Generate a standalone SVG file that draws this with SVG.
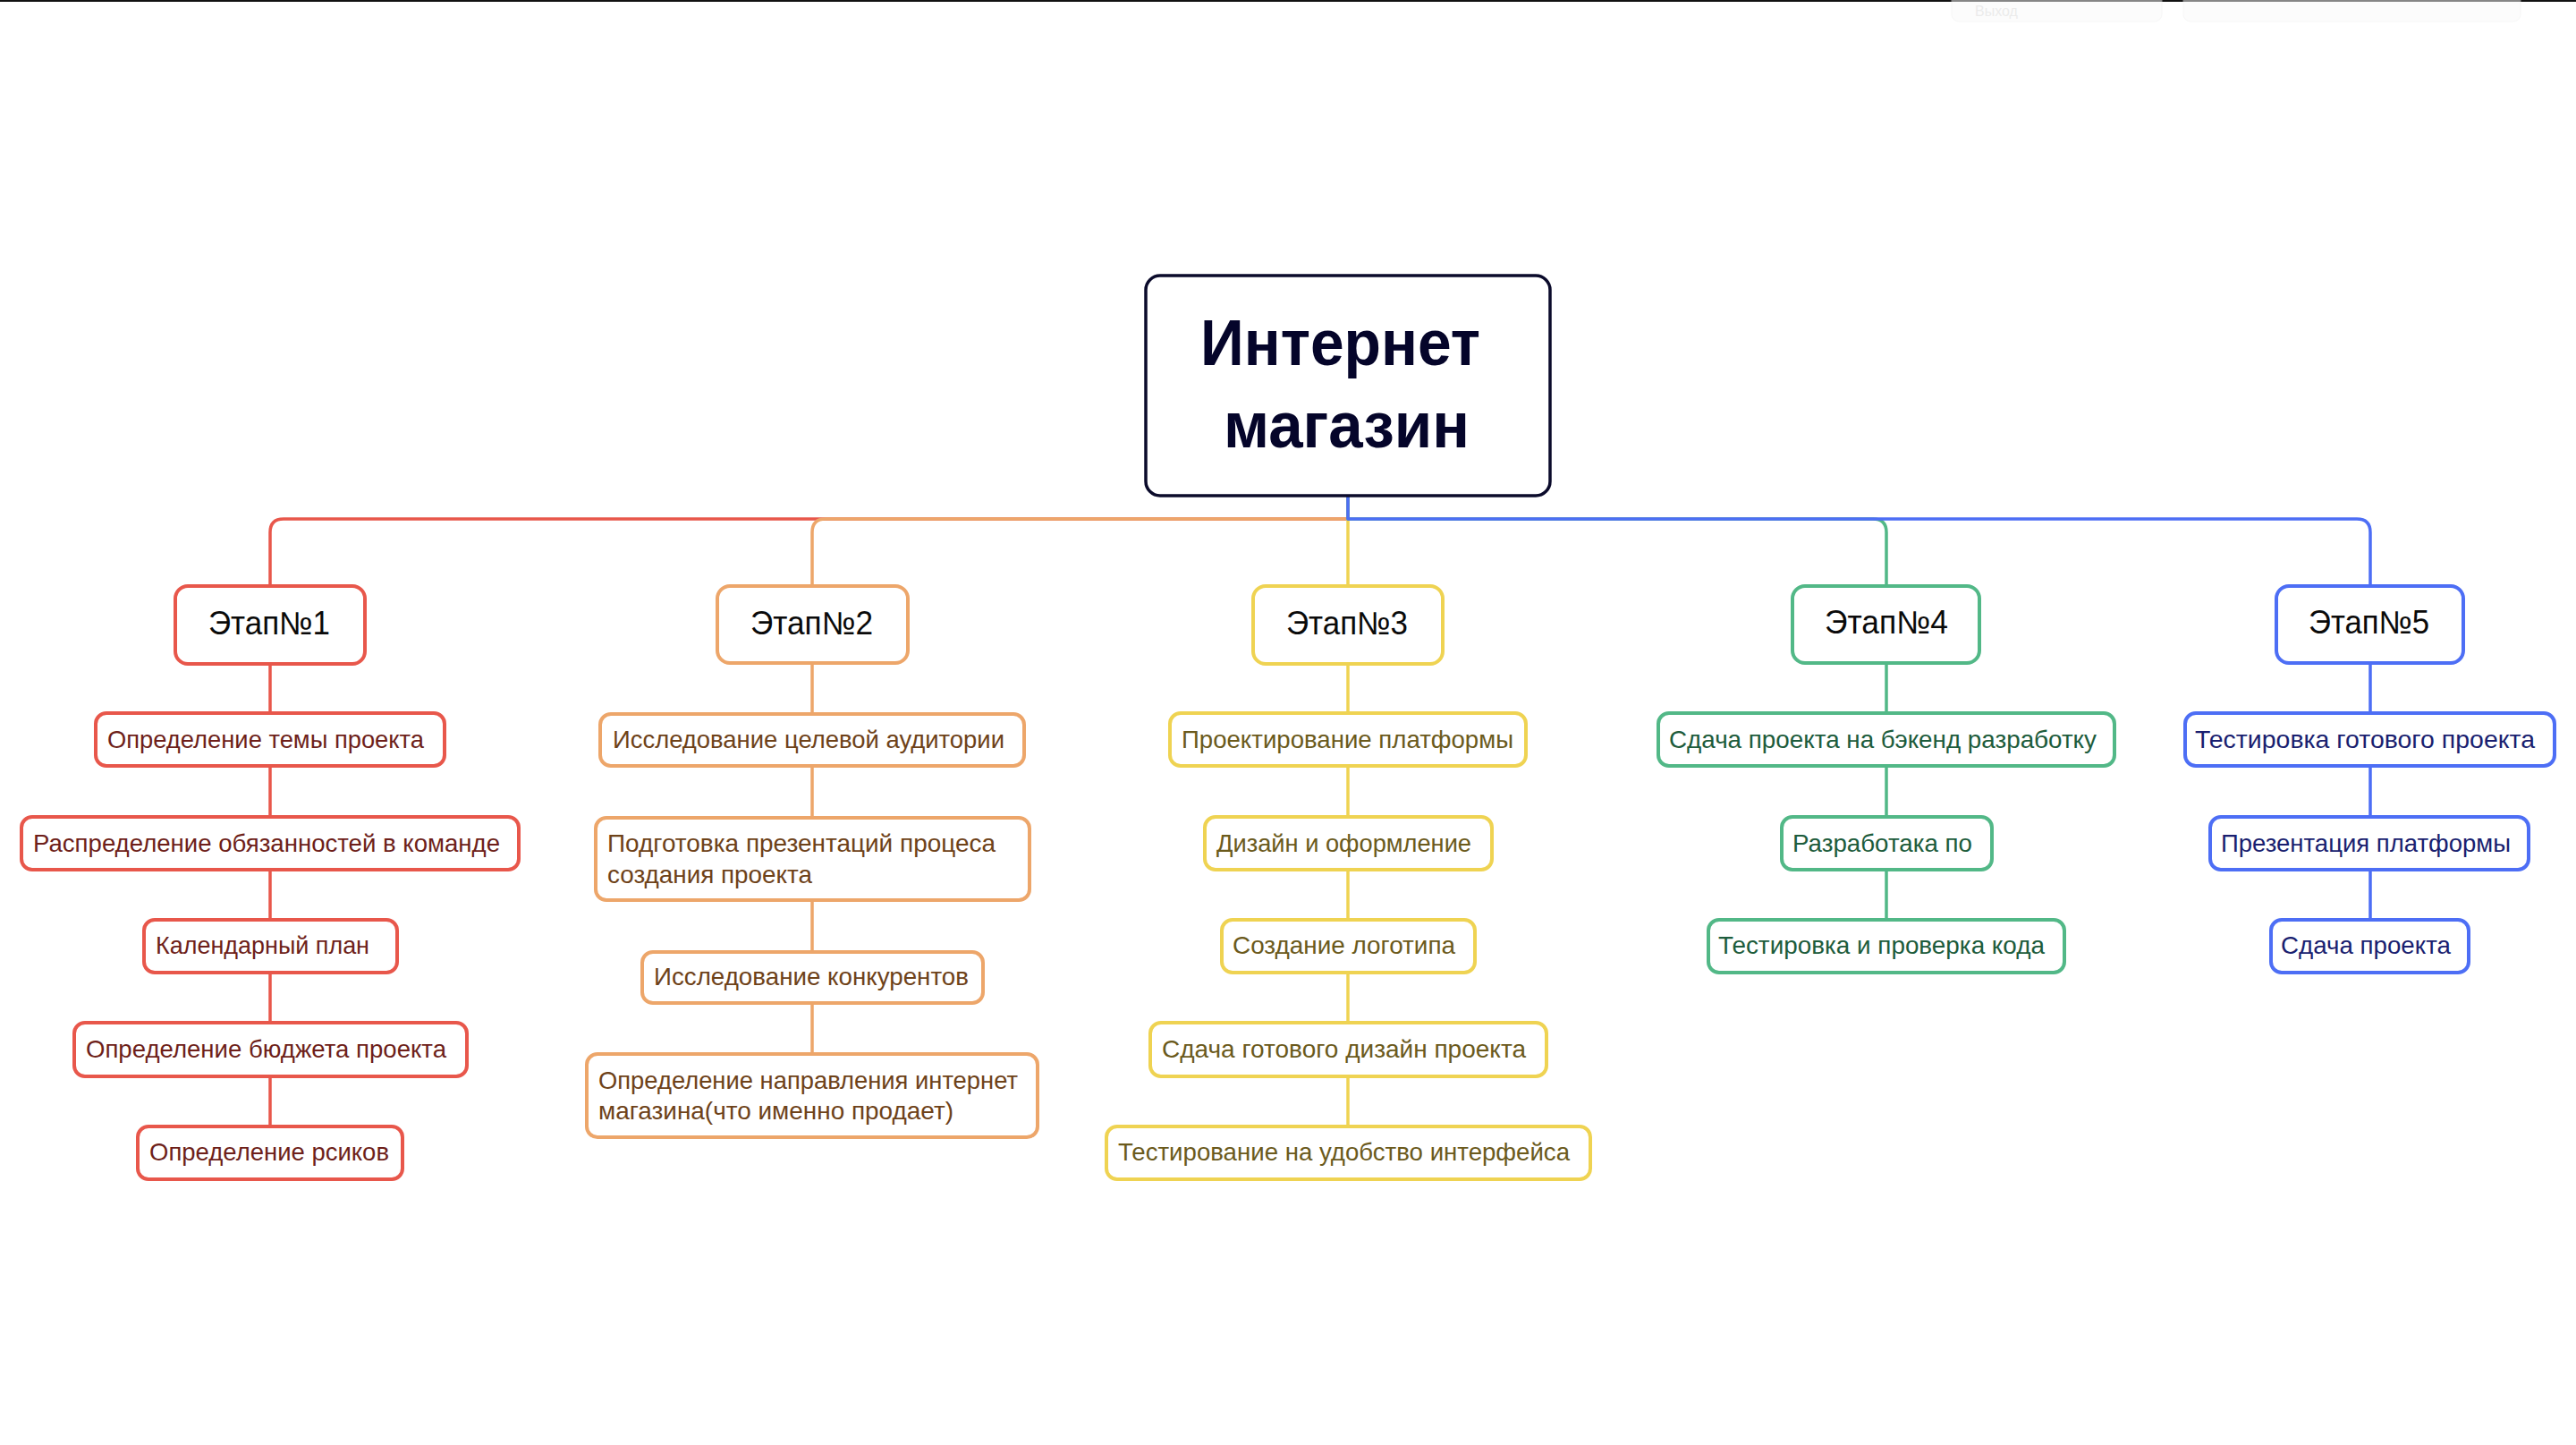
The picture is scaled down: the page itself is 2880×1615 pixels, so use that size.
<svg xmlns="http://www.w3.org/2000/svg" width="2880" height="1615" viewBox="0 0 2880 1615">
  <style>
    .bg { fill: #ffffff; }
    .node { fill: #ffffff; stroke-width: 4; }
    .root { fill: #ffffff; stroke: #0b0b2b; stroke-width: 3.5; }
    .link { fill: none; stroke-width: 3.5; stroke-linejoin: round; }
    .stem { fill: none; stroke-width: 3.5; }
    .title { font-family: "Liberation Sans", Arial, sans-serif; font-weight: bold; font-size: 72px; fill: #05052a; }
    .stage { font-family: "Liberation Sans", Arial, sans-serif; font-size: 36px; fill: #0a0a0a; }
    .item { font-family: "Liberation Sans", Arial, sans-serif; font-size: 28px; }
    .red { stroke: #e8574b; } .red-t { fill: #6e1f1a; }
    .orange { stroke: #eda66a; } .orange-t { fill: #6e4219; }
    .yellow { stroke: #efd352; } .yellow-t { fill: #6b5a1c; }
    .green { stroke: #52b887; } .green-t { fill: #1d5c3c; }
    .blue { stroke: #4d6ef5; } .blue-t { fill: #1a1f70; }
  </style>

  <rect class="bg" x="0" y="0" width="2880" height="1615"/>
  <!-- top edge bar and faint toolbar panels -->
  <rect x="0" y="0" width="2880" height="2" fill="#111111"/>
  <g id="toolbar" opacity="0.5">
    <rect x="2182" y="-20" width="235" height="44" rx="8" fill="#fafafa" stroke="#f0f0f0"/>
    <rect x="2441" y="-20" width="377" height="44" rx="8" fill="#fafafa" stroke="#f0f0f0"/>
    <text x="2208" y="18" font-family="Liberation Sans, Arial, sans-serif" font-size="16" fill="#d8d8d8">Выход</text>
  </g>

  <!-- connectors -->
  <g id="connectors">
    <path class="link red" d="M1507,555 V580 H317 Q302,580 302,595 V653"/>
    <path class="link orange" d="M1507,555 V580 H923 Q908,580 908,595 V653"/>
    <path class="link yellow" d="M1507,555 V653"/>
    <path class="link green" d="M1507,555 V580 H2094 Q2109,580 2109,595 V653"/>
    <path class="link blue" d="M1507,555 V580 H2635 Q2650,580 2650,595 V653"/>
    <path class="stem red" d="M302,744 V1257"/>
    <path class="stem orange" d="M908,743 V1176"/>
    <path class="stem yellow" d="M1507,744 V1257"/>
    <path class="stem green" d="M2109,743 V1026"/>
    <path class="stem blue" d="M2650,743 V1026"/>
  </g>

  <!-- root -->
  <g id="root">
    <rect class="root" x="1281" y="308" width="452" height="246" rx="16"/>
    <text class="title" x="1342" y="408" textLength="313" lengthAdjust="spacingAndGlyphs">Интернет</text>
    <text class="title" x="1368" y="500" textLength="275" lengthAdjust="spacingAndGlyphs">магазин</text>
  </g>

  <!-- stage 1 -->
  <g id="stage1">
    <rect class="node red" x="196" y="655" width="212" height="87" rx="14"/>
    <text class="stage" x="233" y="709" textLength="136" lengthAdjust="spacingAndGlyphs">Этап№1</text>
  </g>
  <g id="s1-1"><rect class="node red" x="107" y="797" width="390" height="59" rx="12"/>
    <text class="item red-t" x="120" y="836" textLength="354" lengthAdjust="spacingAndGlyphs">Определение темы проекта</text></g>
  <g id="s1-2"><rect class="node red" x="24" y="913" width="556" height="59" rx="12"/>
    <text class="item red-t" x="37" y="951.5" textLength="522" lengthAdjust="spacingAndGlyphs">Распределение обязанностей в команде</text></g>
  <g id="s1-3"><rect class="node red" x="161" y="1028" width="283" height="59" rx="12"/>
    <text class="item red-t" x="174" y="1066" textLength="239" lengthAdjust="spacingAndGlyphs">Календарный план</text></g>
  <g id="s1-4"><rect class="node red" x="83" y="1143" width="439" height="60" rx="12"/>
    <text class="item red-t" x="96" y="1182" textLength="403" lengthAdjust="spacingAndGlyphs">Определение бюджета проекта</text></g>
  <g id="s1-5"><rect class="node red" x="154" y="1259" width="296" height="59" rx="12"/>
    <text class="item red-t" x="167" y="1297" textLength="268" lengthAdjust="spacingAndGlyphs">Определение рсиков</text></g>

  <!-- stage 2 -->
  <g id="stage2">
    <rect class="node orange" x="802" y="655" width="213" height="86" rx="14"/>
    <text class="stage" x="839" y="709" textLength="137" lengthAdjust="spacingAndGlyphs">Этап№2</text>
  </g>
  <g id="s2-1"><rect class="node orange" x="671" y="798" width="474" height="58" rx="12"/>
    <text class="item orange-t" x="685" y="836" textLength="438" lengthAdjust="spacingAndGlyphs">Исследование целевой аудитории</text></g>
  <g id="s2-2"><rect class="node orange" x="666" y="914" width="485" height="92" rx="12"/>
    <text class="item orange-t" x="679" y="951.5" textLength="434" lengthAdjust="spacingAndGlyphs">Подготовка презентаций процеса</text>
    <text class="item orange-t" x="679" y="987" textLength="229" lengthAdjust="spacingAndGlyphs">создания проекта</text></g>
  <g id="s2-3"><rect class="node orange" x="718" y="1064" width="381" height="57" rx="12"/>
    <text class="item orange-t" x="731" y="1101" textLength="352" lengthAdjust="spacingAndGlyphs">Исследование конкурентов</text></g>
  <g id="s2-4"><rect class="node orange" x="656" y="1178" width="504" height="93" rx="12"/>
    <text class="item orange-t" x="669" y="1217" textLength="469" lengthAdjust="spacingAndGlyphs">Определение направления интернет</text>
    <text class="item orange-t" x="669" y="1251" textLength="397" lengthAdjust="spacingAndGlyphs">магазина(что именно продает)</text></g>

  <!-- stage 3 -->
  <g id="stage3">
    <rect class="node yellow" x="1401" y="655" width="212" height="87" rx="14"/>
    <text class="stage" x="1438" y="709" textLength="136" lengthAdjust="spacingAndGlyphs">Этап№3</text>
  </g>
  <g id="s3-1"><rect class="node yellow" x="1308" y="797" width="398" height="59" rx="12"/>
    <text class="item yellow-t" x="1321" y="836" textLength="371" lengthAdjust="spacingAndGlyphs">Проектирование платформы</text></g>
  <g id="s3-2"><rect class="node yellow" x="1347" y="913" width="321" height="59" rx="12"/>
    <text class="item yellow-t" x="1360" y="951.5" textLength="285" lengthAdjust="spacingAndGlyphs">Дизайн и оформление</text></g>
  <g id="s3-3"><rect class="node yellow" x="1366" y="1028" width="283" height="59" rx="12"/>
    <text class="item yellow-t" x="1378" y="1066" textLength="249" lengthAdjust="spacingAndGlyphs">Создание логотипа</text></g>
  <g id="s3-4"><rect class="node yellow" x="1286" y="1143" width="443" height="60" rx="12"/>
    <text class="item yellow-t" x="1299" y="1182" textLength="407" lengthAdjust="spacingAndGlyphs">Сдача готового дизайн проекта</text></g>
  <g id="s3-5"><rect class="node yellow" x="1237" y="1259" width="541" height="59" rx="12"/>
    <text class="item yellow-t" x="1250" y="1297" textLength="505" lengthAdjust="spacingAndGlyphs">Тестирование на удобство интерфейса</text></g>

  <!-- stage 4 -->
  <g id="stage4">
    <rect class="node green" x="2004" y="655" width="209" height="86" rx="14"/>
    <text class="stage" x="2040" y="708" textLength="138" lengthAdjust="spacingAndGlyphs">Этап№4</text>
  </g>
  <g id="s4-1"><rect class="node green" x="1854" y="797" width="510" height="59" rx="12"/>
    <text class="item green-t" x="1866" y="836" textLength="478" lengthAdjust="spacingAndGlyphs">Сдача проекта на бэкенд разработку</text></g>
  <g id="s4-2"><rect class="node green" x="1992" y="913" width="235" height="59" rx="12"/>
    <text class="item green-t" x="2004" y="951.5" textLength="201" lengthAdjust="spacingAndGlyphs">Разработака по</text></g>
  <g id="s4-3"><rect class="node green" x="1910" y="1028" width="398" height="59" rx="12"/>
    <text class="item green-t" x="1921" y="1066" textLength="365" lengthAdjust="spacingAndGlyphs">Тестировка и проверка кода</text></g>

  <!-- stage 5 -->
  <g id="stage5">
    <rect class="node blue" x="2545" y="655" width="209" height="86" rx="14"/>
    <text class="stage" x="2581" y="708" textLength="135" lengthAdjust="spacingAndGlyphs">Этап№5</text>
  </g>
  <g id="s5-1"><rect class="node blue" x="2443" y="797" width="413" height="59" rx="12"/>
    <text class="item blue-t" x="2454" y="836" textLength="380" lengthAdjust="spacingAndGlyphs">Тестировка готового проекта</text></g>
  <g id="s5-2"><rect class="node blue" x="2471" y="913" width="356" height="59" rx="12"/>
    <text class="item blue-t" x="2483" y="951.5" textLength="324" lengthAdjust="spacingAndGlyphs">Презентация платформы</text></g>
  <g id="s5-3"><rect class="node blue" x="2539" y="1028" width="221" height="59" rx="12"/>
    <text class="item blue-t" x="2550" y="1066" textLength="190" lengthAdjust="spacingAndGlyphs">Сдача проекта</text></g>
</svg>
